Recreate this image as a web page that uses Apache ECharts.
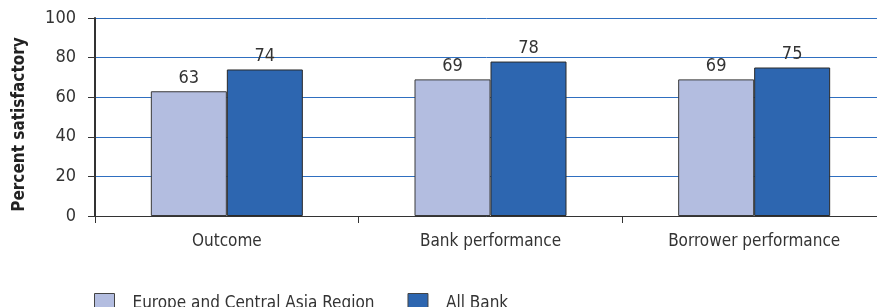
<!DOCTYPE html>
<html>
<head>
<meta charset="utf-8">
<script src="https://cdn.jsdelivr.net/npm/echarts@6/dist/echarts.min.js"></script>
<style>
html,body{margin:0;padding:0;background:#fff;}
#chart{width:877px;height:307px;}
</style>
</head>
<body>
<div id="chart"></div>
<script>
var categories = ['Outcome', 'Bank performance', 'Borrower performance'];
var regionValues = [63, 69, 69];
var bankValues = [74, 78, 75];
var yTicks = [0, 20, 40, 60, 80, 100];
var seriesNames = ['Europe and Central Asia Region', 'All Bank'];

var FONT = '"Liberation Sans Narrow", "DejaVu Sans Condensed", sans-serif';

var myChart = echarts.init(document.getElementById('chart'));

// 图例、坐标轴、柱子
var option = {
    animation: false,
    textStyle: {fontFamily: FONT},
    legend: {
        left: 89,
        top: 288,
        itemWidth: 20,
        itemHeight: 20,
        itemGap: 33,
        icon: 'rect',
        itemStyle: {borderColor: '#444', borderWidth: 1},
        textStyle: {fontFamily: FONT, fontSize: 17, color: '#333', padding: [0, 0, 0, 13]},
        data: seriesNames
    },
    // the last category runs past the right edge, as in the original
    grid: {left: 95, width: 791, top: 18, bottom: 91, outerBoundsMode: 'none', containLabel: false},
    xAxis: {
        type: 'category',
        data: categories,
        axisLine: {show: true, lineStyle: {color: '#333', width: 1}},
        axisTick: {show: true, interval: 0, length: 7, lineStyle: {color: '#333'}},
        axisLabel: {fontFamily: FONT, fontSize: 17, color: '#333', margin: 17}
    },
    yAxis: {
        type: 'value', min: 0, max: 100, interval: 20,
        name: 'Percent satisfactory', nameLocation: 'middle', nameGap: 67,
        nameTextStyle: {fontFamily: FONT, fontSize: 17, fontWeight: 'bold', color: '#222', padding: [0, 15, 0, 0]},
        axisLine: {show: true, lineStyle: {color: '#333', width: 2}},
        axisTick: {show: true, length: 7, lineStyle: {color: '#333'}},
        axisLabel: {
            fontFamily: FONT, fontSize: 18, color: '#333', margin: 19,
            formatter: function (v) { return yTicks.indexOf(v) >= 0 ? String(v) : ''; }
        },
        splitLine: {show: true, lineStyle: {color: '#2f6fc0', width: 1}}
    },
    series: [
        {
            name: seriesNames[0], type: 'bar',
            data: regionValues, barWidth: 76, barGap: '0%',
            itemStyle: {color: '#b3bde0', borderColor: '#3a3a3a', borderWidth: 1},
            label: {show: true, position: 'top', distance: 4, fontFamily: FONT, fontSize: 18, color: '#333'}
        },
        {
            name: seriesNames[1], type: 'bar',
            data: bankValues, barWidth: 76, barGap: '0%',
            itemStyle: {color: '#2d66b0', borderColor: '#2a2a2a', borderWidth: 1},
            label: {show: true, position: 'top', distance: 4, fontFamily: FONT, fontSize: 18, color: '#333'}
        }
    ]
};
myChart.setOption(option);
</script>
</body>
</html>
